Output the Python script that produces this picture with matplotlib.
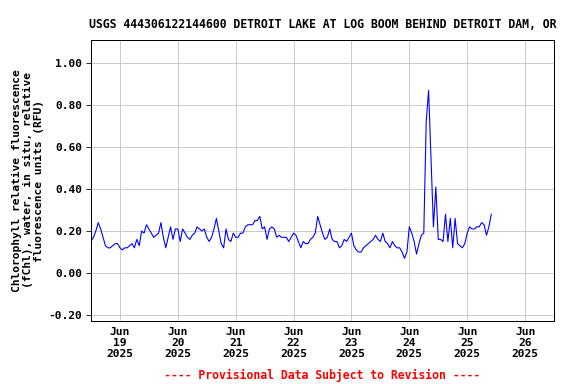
import matplotlib
matplotlib.use('Agg')
import matplotlib.pyplot as plt
import matplotlib.dates as mdates
import numpy as np
import pandas as pd

plt.rcParams['font.family'] = 'DejaVu Sans Mono'
plt.rcParams['font.weight'] = 'bold'

# hourly chlorophyll readings starting Jun 18 2025 12:00
start = '2025-06-18 12:00'
chl = [0.15, 0.17, 0.20, 0.24, 0.21, 0.17, 0.13, 0.12, 0.12, 0.13, 0.14, 0.14,
       0.12, 0.11, 0.12, 0.12, 0.13, 0.14, 0.12, 0.16, 0.13, 0.20, 0.19, 0.23,
       0.21, 0.19, 0.17, 0.18, 0.19, 0.24, 0.17, 0.12, 0.17, 0.22, 0.16, 0.21,
       0.21, 0.15, 0.21, 0.19, 0.17, 0.16, 0.18, 0.19, 0.22, 0.21, 0.20, 0.21,
       0.17, 0.15, 0.17, 0.21, 0.26, 0.20, 0.14, 0.12, 0.21, 0.16, 0.15, 0.19,
       0.17, 0.17, 0.19, 0.19, 0.22, 0.23, 0.23, 0.23, 0.25, 0.25, 0.27, 0.21,
       0.22, 0.16, 0.21, 0.22, 0.21, 0.17, 0.18, 0.17, 0.17, 0.17, 0.15, 0.17,
       0.19, 0.18, 0.15, 0.12, 0.15, 0.14, 0.14, 0.16, 0.17, 0.19, 0.27, 0.23,
       0.19, 0.16, 0.17, 0.21, 0.16, 0.15, 0.15, 0.12, 0.13, 0.16, 0.15, 0.17,
       0.19, 0.13, 0.11, 0.10, 0.10, 0.12, 0.13, 0.14, 0.15, 0.16, 0.18, 0.16,
       0.15, 0.19, 0.15, 0.14, 0.12, 0.15, 0.13, 0.12, 0.12, 0.10, 0.07, 0.10,
       0.22, 0.19, 0.15, 0.09, 0.14, 0.18, 0.19, 0.72, 0.87, 0.55, 0.22, 0.41,
       0.16, 0.16, 0.15, 0.28, 0.15, 0.26, 0.12, 0.26, 0.14, 0.13, 0.12, 0.14,
       0.19, 0.22, 0.21, 0.21, 0.22, 0.22, 0.24, 0.23, 0.18, 0.22, 0.28]
times = pd.date_range(start, periods=len(chl), freq='h')

yticks = [-0.2, 0.0, 0.2, 0.4, 0.6, 0.8, 1.0]
xtick_days = pd.date_range('2025-06-19', '2025-06-26', freq='D')

fig = plt.figure(figsize=(8, 384 / 72), dpi=72)
ax = fig.add_axes([91 / 576, 1 - 321 / 384, 463 / 576, 281 / 384])

ax.plot(times, chl, color='#0000ff', linewidth=1.1)

ax.set_xlim(pd.Timestamp('2025-06-18 12:00'), pd.Timestamp('2025-06-26 12:00'))
ax.set_ylim(-0.2286, 1.11)
ax.set_yticks(yticks)
ax.set_yticklabels(['%.2f' % v for v in yticks])
ax.set_xticks(xtick_days)
ax.set_xticklabels([d.strftime('%b\n%d\n%Y') for d in xtick_days], linespacing=1.1)
ax.tick_params(axis='x', length=0, pad=6, labelsize=11.3)
ax.tick_params(axis='y', length=5, direction='out', labelsize=11.3)
ax.grid(True, color='#cccccc', linewidth=1)
ax.set_axisbelow(True)
for s in ax.spines.values():
    s.set_linewidth(1)

ax.set_title('USGS 444306122144600 DETROIT LAKE AT LOG BOOM BEHIND DETROIT DAM, OR',
             fontsize=11.5, fontweight='bold', pad=12)
ax.set_ylabel('Chlorophyll relative fluorescence\n(fChl), water, in situ, relative\nfluorescence units (RFU)',
              fontsize=11.3, fontweight='bold', linespacing=1.1, labelpad=5)

fig.text(322 / 576, 1 - 375 / 384, '---- Provisional Data Subject to Revision ----',
         color='red', fontsize=11.5, fontweight='bold', ha='center', va='center')

plt.savefig('out.png', dpi=72)
